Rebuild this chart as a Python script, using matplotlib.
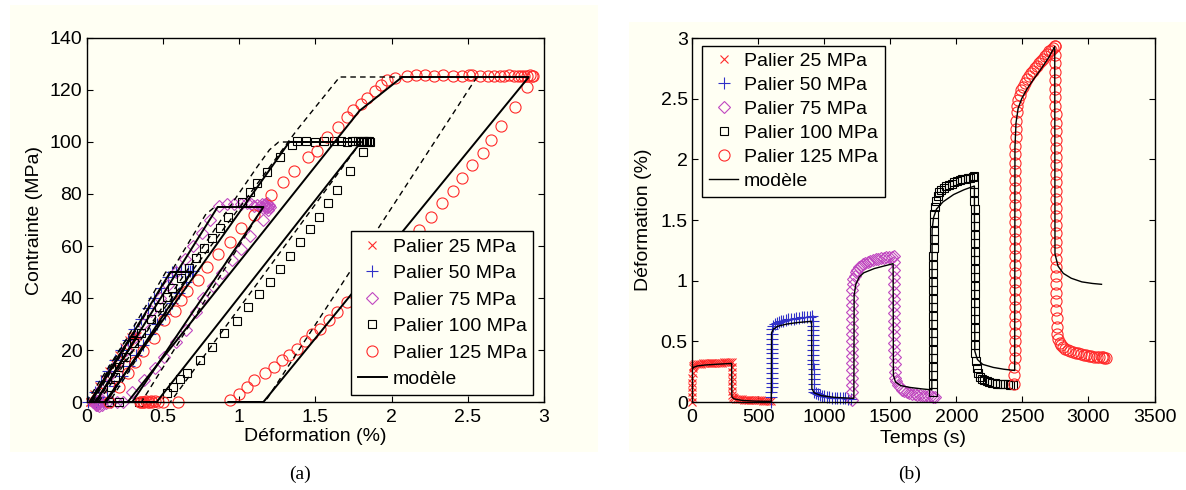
import matplotlib.pyplot as plt
import numpy as np
from matplotlib.patches import Rectangle

plt.rcParams['font.family'] = ['Liberation Sans', 'DejaVu Sans']

# ---- (a) contrainte / deformation : points (deformation %, contrainte MPa)
a25 = [(0.02,0),(0.052,3),(0.085,6),(0.117,9),(0.15,12),(0.18,15),(0.214,18),(0.246,21),(0.278,24),
       (0.29,25),(0.305,25.3),(0.318,25.2),(0.326,25.4),(0.33,25.2),(0.286,21),(0.24,17),(0.197,13),
       (0.153,9),(0.11,5),(0.064,1),(0.05,0),(0.035,0),(0.02,0)]
a50 = [(0.01,0),(0.053,4),(0.097,8),(0.14,12),(0.184,16),(0.227,20),(0.27,24),(0.314,28),(0.357,32),
       (0.40,36),(0.445,40),(0.488,44),(0.532,48),(0.56,50),(0.59,50.3),(0.62,50.2),(0.645,50.4),
       (0.665,50.3),(0.68,50.5),(0.69,50.3),(0.70,50.4),(0.653,46),(0.606,42),(0.559,38),(0.512,34),
       (0.465,30),(0.418,26),(0.37,22),(0.324,18),(0.276,14),(0.23,10),(0.183,6),(0.135,2),(0.11,0),
       (0.09,0),(0.075,0),(0.06,0),(0.05,0)]
a75 = [(0.04,0),(0.095,5),(0.15,10),(0.205,15),(0.26,20),(0.315,25),(0.37,30),(0.425,35),(0.48,40),
       (0.535,45),(0.59,50),(0.645,55),(0.70,60),(0.755,65),(0.81,70),(0.87,75.5),(0.92,76),(0.97,76.3),
       (1.01,76.2),(1.05,76.4),(1.08,76),(1.10,75.5),(1.12,75.8),(1.14,75.2),(1.15,76),(1.16,74.8),
       (1.165,75.6),(1.17,76.2),(1.175,74.6),(1.18,75.4),(1.185,76.5),(1.19,75),(1.19,73.8),(1.195,75.8),
       (1.20,74.9),(1.155,70),(1.07,63.7),(1.01,59),(0.955,54.6),(0.89,49.7),(0.83,44.7),(0.765,40),
       (0.715,34.7),(0.65,27.6),(0.59,23),(0.51,17.3),(0.45,12.9),(0.375,8.3),(0.30,3.9),(0.24,0),
       (0.2,0),(0.16,0),(0.13,-0.5),(0.11,0.5),(0.10,-1),(0.09,0),(0.085,-1.5),(0.08,0.5),(0.075,-0.8),
       (0.07,-1.2),(0.07,0.3),(0.065,-0.5),(0.06,-1)]
a100 = [(0.15,0),(0.16,5.9),(0.19,9.7),(0.213,13.6),(0.257,17.4),(0.31,22.6),(0.355,26.4),(0.42,31.8),
        (0.475,36.7),(0.526,40.3),(0.56,43.7),(0.62,47.6),(0.67,51.5),(0.716,55.3),(0.77,59.1),(0.825,63),
        (0.875,66.8),(0.93,71),(1.018,77),(1.07,80.9),(1.116,84.3),(1.186,88.6),(1.27,94.1),(1.345,98.8),
        (1.38,100.2),(1.44,100.3),(1.50,100.1),(1.56,100.4),(1.62,100.2),(1.67,100.3),(1.71,100.1),
        (1.74,100.4),(1.76,100.2),(1.78,100.3),(1.80,100.1),(1.81,100.4),(1.82,100.2),(1.83,100.1),
        (1.84,100.3),(1.85,100.2),(1.86,100.1),(1.815,96.3),(1.73,88.8),(1.645,81.5),(1.586,76.4),
        (1.527,71.3),(1.466,66.4),(1.40,61.4),(1.334,56.3),(1.27,51.2),(1.20,46.3),(1.13,41.5),(1.06,36.6),
        (0.985,31.3),(0.90,26.4),(0.825,21.3),(0.745,16.2),(0.66,11.3),(0.61,8.7),(0.57,5.7),(0.526,3.3),
        (0.345,0),(0.21,0),(0.15,0)]
a125 = [(0.15,0),(0.21,5.8),(0.27,11),(0.32,15.4),(0.37,19.7),(0.44,24.8),(0.51,31.5),(0.58,35),(0.62,39.4),
        (0.66,42.8),(0.73,47),(0.79,52),(0.86,57),(0.94,61.5),(1.01,66.8),(1.10,72),(1.21,79.6),(1.29,84.8),
        (1.36,88.9),(1.45,94.4),(1.51,96.7),(1.58,101.8),(1.65,105.9),(1.71,109.5),(1.75,112.4),(1.80,114.5),
        (1.84,116.9),(1.89,119.8),(1.93,122),(1.97,123.9),(2.02,124.6),(2.10,125.5),(2.16,125.6),(2.22,125.7),
        (2.28,125.5),(2.34,125.6),(2.40,125.4),(2.46,125.5),(2.51,125.8),(2.53,125.6),(2.58,125.3),(2.63,125.4),
        (2.67,125.4),(2.71,125.5),(2.74,125.5),(2.77,125.6),(2.80,125.4),(2.83,125.5),(2.85,125.3),(2.87,125.4),
        (2.89,125.5),(2.91,125.6),(2.92,125.5),(2.93,125.4),(2.89,121),(2.81,113.6),(2.72,106),(2.65,100.8),
        (2.60,95.7),(2.53,91),(2.46,86),(2.40,81),(2.33,76.4),(2.26,71.3),(2.18,66),(2.10,61),(2.02,56.5),
        (1.94,52),(1.86,47.5),(1.78,43),(1.71,38.5),(1.64,34.7),(1.59,31.5),(1.53,28),(1.48,26),(1.43,23.4),
        (1.38,20.5),(1.33,18.2),(1.28,16),(1.23,13.5),(1.17,11.2),(1.10,8.3),(1.05,5.8),(1.0,3.2),(0.94,0.6),
        (0.6,0),(0.5,0),(0.47,0),(0.45,0.3),(0.43,0),(0.42,0.2),(0.41,0),(0.40,0),(0.39,0.2),(0.38,0),
        (0.37,0),(0.36,0),(0.35,0)]

# modele (trait plein) et second modele (tirets)
ma25 = [(0.02,0),(0.29,25),(0.33,25),(0.06,0),(0.03,0)]
ma50 = [(0.03,0),(0.55,50),(0.69,50),(0.13,0),(0.05,0)]
ma75 = [(0.06,0),(0.86,75),(1.16,75),(0.30,0),(0.15,0)]
ma100 = [(0.12,0),(1.33,100),(1.80,100),(0.46,0),(0.27,0)]
ma125 = [(0.27,0),(1.79,112),(2.07,125),(2.90,125),(1.16,0),(0.93,0)]
da25 = [(0.0,0),(0.27,25),(0.33,25),(0.07,0)]
da50 = [(0.02,0),(0.52,50),(0.69,50),(0.15,0)]
da75 = [(0.04,0),(0.78,72),(0.84,75),(1.16,75),(0.36,0)]
da100 = [(0.08,0),(0.985,79),(1.12,90.5),(1.2,97),(1.26,100),(1.8,100),(0.55,0)]
da125 = [(0.05,0),(1.07,80),(1.38,104.6),(1.66,125),(2.56,125),(1.17,0)]

# ---- (b) deformation / temps : points (temps s, deformation %)
b25 = [(0,0.0),(1,0.04),(1,0.08),(2,0.12),(2,0.16),(3,0.20),(4,0.24),(5,0.28),(8,0.30),(15,0.305),(25,0.31),
       (35,0.312),(50,0.315),(65,0.317),(80,0.318),(95,0.319),(110,0.32),(125,0.321),(140,0.322),(155,0.322),
       (170,0.323),(185,0.324),(200,0.324),(215,0.325),(230,0.325),(245,0.326),(260,0.326),(275,0.327),
       (290,0.327),(300,0.328),(302,0.29),(303,0.25),(303,0.21),(304,0.17),(304,0.13),(305,0.09),(306,0.06),
       (308,0.04),(315,0.033),(330,0.028),(345,0.025),(360,0.023),(375,0.021),(390,0.02),(405,0.019),
       (420,0.018),(435,0.017),(450,0.016),(465,0.015),(480,0.014),(495,0.014),(510,0.013),(525,0.013),
       (540,0.012),(555,0.012),(570,0.011),(585,0.011),(600,0.01)]
b50 = [(600,0.0),(601,0.04),(601,0.08),(602,0.12),(602,0.16),(603,0.20),(603,0.24),(604,0.28),(604,0.32),
       (605,0.36),(605,0.40),(606,0.44),(606,0.48),(607,0.52),(608,0.56),(609,0.60),(615,0.625),(625,0.64),
       (640,0.65),(655,0.658),(670,0.664),(690,0.67),(710,0.675),(730,0.68),(750,0.684),(770,0.688),
       (790,0.691),(810,0.694),(830,0.697),(850,0.70),(870,0.702),(890,0.704),(910,0.705),(915,0.67),
       (915,0.63),(916,0.59),(916,0.55),(917,0.51),(917,0.47),(918,0.43),(918,0.39),(919,0.35),(919,0.31),
       (920,0.27),(920,0.23),(921,0.19),(922,0.15),(923,0.11),(925,0.085),(935,0.072),(950,0.063),
       (965,0.057),(980,0.052),(1000,0.047),(1020,0.043),(1040,0.04),(1060,0.037),(1080,0.035),
       (1100,0.033),(1120,0.031),(1140,0.03),(1160,0.029),(1180,0.028),(1200,0.027)]
b75 = [(1208,0.02),(1208,0.08),(1209,0.14),(1209,0.20),(1209,0.26),(1210,0.32),(1210,0.38),(1210,0.44),
       (1211,0.50),(1211,0.56),(1211,0.62),(1212,0.68),(1212,0.74),(1213,0.80),(1213,0.86),(1214,0.92),
       (1216,0.97),(1222,1.01),(1230,1.04),(1240,1.07),(1252,1.09),(1265,1.11),(1280,1.125),(1295,1.135),
       (1310,1.145),(1330,1.155),(1350,1.162),(1370,1.17),(1390,1.175),(1410,1.18),(1430,1.185),(1450,1.19),
       (1470,1.193),(1490,1.196),(1510,1.198),(1525,1.2),(1528,1.15),(1528,1.09),(1529,1.03),(1529,0.97),
       (1529,0.91),(1530,0.85),(1530,0.79),(1530,0.73),(1531,0.67),(1531,0.61),(1531,0.55),(1532,0.49),
       (1532,0.43),(1533,0.37),(1533,0.31),(1534,0.25),(1536,0.2),(1545,0.17),(1558,0.14),(1572,0.12),
       (1588,0.10),(1605,0.09),(1625,0.08),(1645,0.075),(1665,0.07),(1685,0.065),(1705,0.06),(1725,0.055),
       (1745,0.052),(1765,0.05),(1785,0.048),(1805,0.046),(1825,0.045),(1840,0.044)]
b100 = [(1822,0.08),(1822,0.15),(1823,0.22),(1823,0.29),(1823,0.36),(1824,0.43),(1824,0.50),(1824,0.57),
        (1825,0.64),(1825,0.71),(1825,0.78),(1826,0.85),(1826,0.92),(1826,0.99),(1827,1.06),(1827,1.13),
        (1827,1.20),(1828,1.27),(1828,1.34),(1829,1.41),(1830,1.48),(1832,1.55),(1836,1.61),(1845,1.66),
        (1858,1.70),(1872,1.73),(1888,1.75),(1905,1.765),(1925,1.78),(1945,1.79),(1965,1.80),(1985,1.81),
        (2005,1.82),(2025,1.828),(2045,1.835),(2065,1.84),(2085,1.845),(2105,1.85),(2125,1.855),(2135,1.86),
        (2137,1.80),(2137,1.73),(2137,1.66),(2138,1.59),(2138,1.52),(2138,1.45),(2139,1.38),(2139,1.31),
        (2139,1.24),(2140,1.17),(2140,1.10),(2140,1.03),(2141,0.96),(2141,0.89),(2141,0.82),(2142,0.75),
        (2142,0.68),(2143,0.61),(2143,0.54),(2144,0.47),(2145,0.40),(2148,0.34),(2155,0.28),(2165,0.24),
        (2178,0.21),(2193,0.19),(2210,0.18),(2230,0.17),(2250,0.165),(2270,0.16),(2290,0.155),(2310,0.152),
        (2330,0.15),(2350,0.148),(2370,0.146),(2390,0.145),(2410,0.143),(2430,0.142)]
b125 = [(2440,0.15),(2440,0.22),(2440,0.29),(2441,0.36),(2441,0.43),(2441,0.50),(2441,0.57),(2442,0.64),
        (2442,0.71),(2442,0.78),(2442,0.85),(2443,0.92),(2443,0.99),(2443,1.06),(2443,1.13),(2444,1.20),
        (2444,1.27),(2444,1.34),(2444,1.41),(2445,1.48),(2445,1.55),(2445,1.62),(2446,1.69),(2446,1.76),
        (2446,1.83),(2447,1.90),(2447,1.97),(2448,2.04),(2448,2.11),(2449,2.18),(2450,2.25),(2452,2.32),
        (2456,2.39),(2462,2.44),(2470,2.49),(2480,2.53),(2492,2.57),(2505,2.6),(2520,2.63),(2535,2.66),
        (2550,2.69),(2565,2.71),(2580,2.73),(2595,2.75),(2610,2.77),(2625,2.79),(2640,2.81),(2655,2.83),
        (2670,2.85),(2685,2.87),(2700,2.89),(2715,2.905),(2730,2.92),(2745,2.935),(2748,2.93),(2749,2.86),
        (2749,2.79),(2749,2.72),(2750,2.65),(2750,2.58),(2750,2.51),(2750,2.44),(2751,2.37),(2751,2.30),
        (2751,2.23),(2751,2.16),(2752,2.09),(2752,2.02),(2752,1.95),(2752,1.88),(2753,1.81),(2753,1.74),
        (2753,1.67),(2753,1.60),(2754,1.53),(2754,1.46),(2754,1.39),(2754,1.32),(2755,1.25),(2755,1.18),
        (2755,1.11),(2756,1.04),(2756,0.97),(2757,0.90),(2757,0.83),(2758,0.76),(2759,0.69),(2761,0.62),
        (2765,0.56),(2772,0.52),(2782,0.49),(2795,0.47),(2810,0.455),(2826,0.44),(2843,0.43),(2863,0.42),
        (2883,0.41),(2903,0.405),(2923,0.40),(2943,0.395),(2963,0.39),(2983,0.385),(3003,0.38),(3023,0.378),
        (3043,0.375),(3063,0.373),(3083,0.37),(3100,0.368),(3110,0.367),(3120,0.366),(3130,0.365)]
mb = [(0,0.0),(2,0.27),(10,0.285),(40,0.297),(100,0.305),(200,0.312),(300,0.318),(302,0.04),(320,0.025),
      (380,0.013),(480,0.007),(600,0.005),(602,0.57),(615,0.6),(650,0.625),(720,0.643),(800,0.655),
      (905,0.665),(907,0.11),(925,0.075),(980,0.052),(1080,0.038),(1225,0.03),(1227,0.88),(1240,0.97),
      (1265,1.03),(1300,1.065),(1380,1.1),(1450,1.12),(1522,1.14),(1524,0.22),(1540,0.165),(1580,0.135),
      (1650,0.12),(1740,0.108),(1815,0.1),(1817,1.42),(1828,1.52),(1850,1.59),(1900,1.65),(1980,1.71),
      (2060,1.75),(2137,1.78),(2140,0.42),(2160,0.35),(2200,0.31),(2280,0.285),(2360,0.27),(2442,0.26),
      (2444,2.1),(2452,2.3),(2468,2.42),(2495,2.5),(2535,2.58),(2585,2.66),(2645,2.75),(2700,2.84),
      (2745,2.93),(2747,1.22),(2770,1.12),(2810,1.06),(2870,1.02),(2950,0.99),(3030,0.977),(3099,0.97)]

labels = ['Palier 25 MPa', 'Palier 50 MPa', 'Palier 75 MPa', 'Palier 100 MPa', 'Palier 125 MPa']


def xy(pts):
    a = np.array(pts, dtype=float)
    return a[:, 0], a[:, 1]


cream = '#fffff3'
red = '#ff2a2a'
blue = '#3030c8'
mag = '#c048c0'
styles = [dict(marker='x', color=red, ms=5.5, mew=0.8),
          dict(marker='+', color=blue, ms=8, mew=0.8),
          dict(marker='D', mfc='none', mec=mag, ms=6.5, mew=0.8),
          dict(marker='s', mfc='none', mec='k', ms=6, mew=0.8),
          dict(marker='o', mfc='none', mec=red, ms=8, mew=0.8)]

fig = plt.figure(figsize=(11.86, 4.9), dpi=100)
fig.patches.append(Rectangle((10/1186, 38/490), 588/1186, 447/490, transform=fig.transFigure,
                             facecolor=cream, edgecolor='none', zorder=-5))
fig.patches.append(Rectangle((629/1186, 38/490), 557/1186, 430/490, transform=fig.transFigure,
                             facecolor=cream, edgecolor='none', zorder=-5))

ax1 = fig.add_axes([86.5/1186, 88/490, 457.5/1186, 364/490])
ax2 = fig.add_axes([692/1186, 88/490, 462.5/1186, 364/490])

# (a)
for pts, st, lab in zip([a25, a50, a75, a100, a125], styles, labels):
    x, y = xy(pts)
    ax1.plot(x, y, ls='none', label=lab, clip_on=False, **st)
for pts in [da25, da50, da75, da100, da125]:
    x, y = xy(pts)
    ax1.plot(x, y, color='k', lw=1.0, dashes=(4, 3))
for i, pts in enumerate([ma25, ma50, ma75, ma100, ma125]):
    x, y = xy(pts)
    ax1.plot(x, y, color='k', lw=1.4, label='modèle' if i == 0 else None)

ax1.set_xlim(0, 3)
ax1.set_ylim(0, 140)
ax1.set_xticks(np.arange(0, 3.01, 0.5))
ax1.set_xticklabels(['0', '0.5', '1', '1.5', '2', '2.5', '3'])
ax1.set_yticks(np.arange(0, 141, 20))
ax1.set_xlabel('Déformation (%)', fontsize=14)
ax1.set_ylabel('Contrainte (MPa)', fontsize=14)
ax1.xaxis.set_label_coords(0.5, -0.071)
ax1.yaxis.set_label_coords(-0.096, 0.5)
leg1 = ax1.legend(loc='lower right', bbox_to_anchor=(0.977, 0.019), borderaxespad=0, fancybox=False,
                  edgecolor='k', facecolor=cream, framealpha=1, fontsize=14, handlelength=1.5,
                  handletextpad=0.3, labelspacing=0.46, borderpad=0.35, numpoints=1)
leg1.get_frame().set_linewidth(1.0)

# (b)
for pts, st, lab in zip([b25, b50, b75, b100, b125], styles, labels):
    x, y = xy(pts)
    ax2.plot(x, y, ls='none', label=lab, clip_on=False, **st)
x, y = xy(mb)
ax2.plot(x, y, color='k', lw=1.0, label='modèle')

ax2.set_xlim(0, 3500)
ax2.set_ylim(0, 3)
ax2.set_xticks(np.arange(0, 3501, 500))
ax2.set_yticks(np.arange(0, 3.01, 0.5))
ax2.set_yticklabels(['0', '0.5', '1', '1.5', '2', '2.5', '3'])
ax2.set_xlabel('Temps (s)', fontsize=14)
ax2.set_ylabel('Déformation (%)', fontsize=14)
ax2.xaxis.set_label_coords(0.5, -0.077)
ax2.yaxis.set_label_coords(-0.087, 0.5)
leg2 = ax2.legend(loc='upper left', bbox_to_anchor=(0.022, 0.979), borderaxespad=0, fancybox=False,
                  edgecolor='k', facecolor=cream, framealpha=1, fontsize=14, handlelength=1.5,
                  handletextpad=0.3, labelspacing=0.33, borderpad=0.35, numpoints=1)
leg2.get_frame().set_linewidth(1.0)

for ax in (ax1, ax2):
    ax.set_facecolor(cream)
    ax.tick_params(direction='in', top=True, right=True, length=4, width=0.8, labelsize=14)
    ax.tick_params(axis='x', pad=5)
    ax.tick_params(axis='y', pad=3)
    for s in ax.spines.values():
        s.set_linewidth(1.0)

fig.text(300/1186, 1 - 474/490, '(a)', ha='center', va='center', family='Liberation Serif', fontsize=14)
fig.text(910/1186, 1 - 474/490, '(b)', ha='center', va='center', family='Liberation Serif', fontsize=14)

fig.savefig('out.png', dpi=100)
